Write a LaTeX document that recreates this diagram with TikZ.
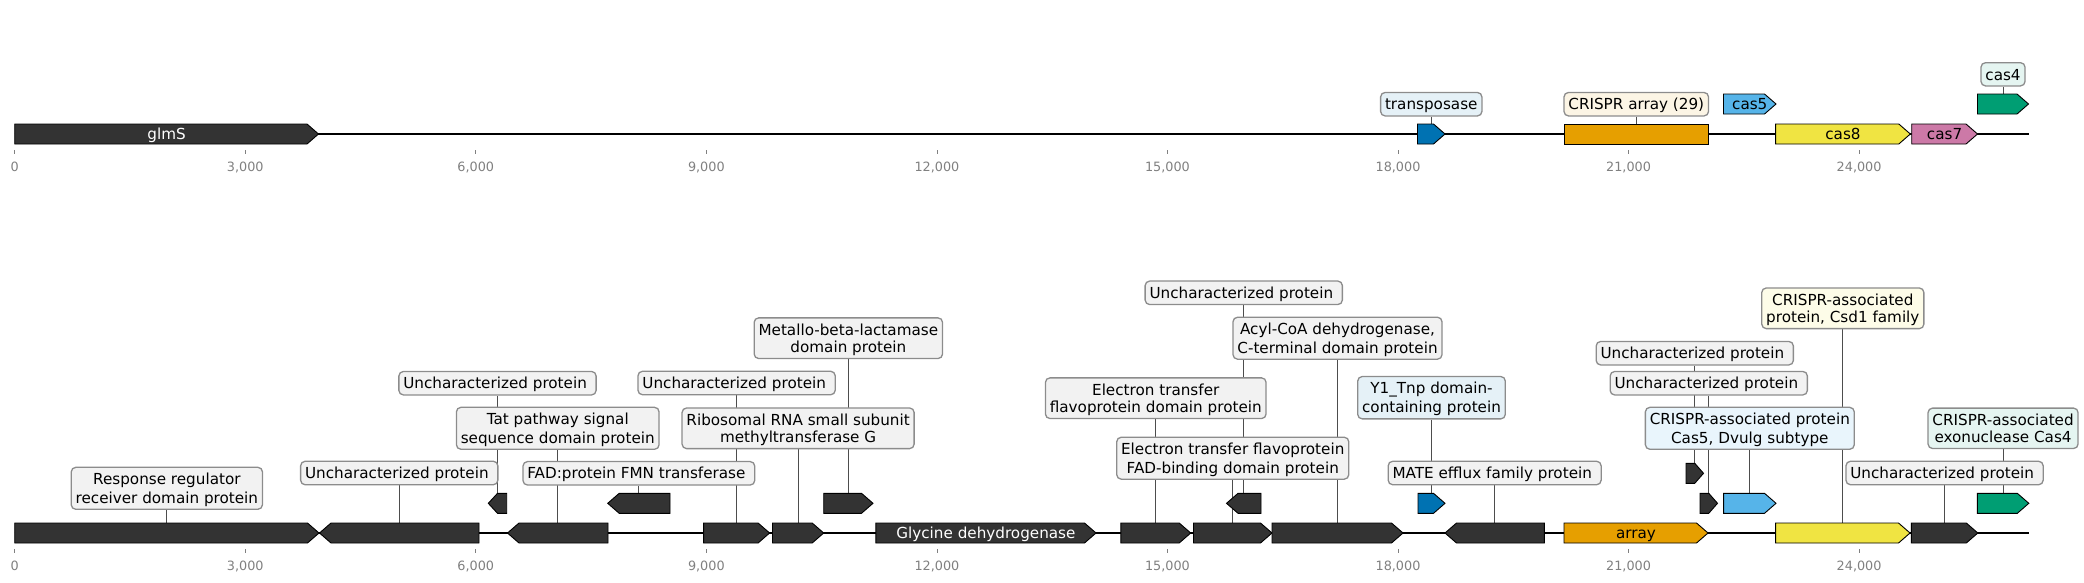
\documentclass[tikz,border=0pt]{standalone}
\usepackage{fontspec}
\setmainfont{DejaVu Sans}
\definecolor{gdark}{HTML}{333333}
\definecolor{cblue}{HTML}{0072B2}
\definecolor{csky}{HTML}{56B4E9}
\definecolor{corange}{HTML}{E69F00}
\definecolor{cyellow}{HTML}{F0E442}
\definecolor{cpink}{HTML}{CC79A7}
\definecolor{cgreen}{HTML}{009E73}
\definecolor{boxfill}{HTML}{F2F2F2}
\definecolor{boxline}{HTML}{8C8C8C}
\definecolor{connc}{HTML}{4D4D4D}
\definecolor{tickc}{HTML}{808080}
\definecolor{ticktext}{HTML}{808080}
\colorlet{fblue}{cblue!10!white}
\colorlet{fsky}{csky!13!white}
\colorlet{forange}{corange!10!white}
\colorlet{fyellow}{cyellow!12!white}
\colorlet{fgreen}{cgreen!10!white}
\pgfdeclarelayer{bg}
\pgfsetlayers{bg,main}
\newcommand{\lblsize}{\fontsize{15.2}{17.2}\selectfont}
\newcommand{\ticksize}{\fontsize{12.8}{15}\selectfont}
\newcommand{\ls}{\rule[-2.9pt]{0pt}{17.2pt}}
% forward gene: name, x1, tip x2, yc, colour
\newcommand{\genef}[5]{%
  \pgfmathsetmacro{\ghl}{min(11.5,0.5*(#3-#2))}%
  \draw[genestyle,fill=#5] (#2,#4-10) -- ({#3-\ghl},#4-10) -- (#3,#4) -- ({#3-\ghl},#4+10) -- (#2,#4+10) -- cycle;
  \coordinate (#1) at ({(#2+#3)/2},#4-10);
  \coordinate (#1t) at ({(#2+#3)/2},#4+5.3);
}
% reverse gene: name, tip x1, x2, yc, colour
\newcommand{\gener}[5]{%
  \pgfmathsetmacro{\ghl}{min(11.5,0.5*(#3-#2))}%
  \draw[genestyle,fill=#5] (#3,#4-10) -- ({#2+\ghl},#4-10) -- (#2,#4) -- ({#2+\ghl},#4+10) -- (#3,#4+10) -- cycle;
  \coordinate (#1) at ({(#2+#3)/2},#4-10);
  \coordinate (#1t) at ({(#2+#3)/2},#4+5.3);
}
% rectangle feature
\newcommand{\generect}[5]{%
  \draw[genestyle,fill=#5] (#2,#4-10) rectangle (#3,#4+10);
  \coordinate (#1) at ({(#2+#3)/2},#4-10);
  \coordinate (#1t) at ({(#2+#3)/2},#4+5.3);
}
\begin{document}
\begin{tikzpicture}[x=1pt,y=-1pt,
  genestyle/.style={draw=black,line width=0.9pt,line join=miter},
  lbl/.style={draw=boxline,line width=1.3pt,rounded corners=4.5pt,fill=boxfill,inner xsep=4.4pt,inner ysep=3pt,align=center,font=\lblsize,text=black},
  conn/.style={draw=connc,line width=0.9pt},
  axisline/.style={draw=black,line width=2pt},
  tickmark/.style={draw=tickc,line width=0.8pt},
  ticklbl/.style={font=\ticksize,text=ticktext,anchor=base,inner sep=0pt},
  gtext/.style={font=\lblsize,anchor=base,inner sep=0pt}]
\useasboundingbox (0,0) rectangle (2084,582);

\begin{pgfonlayer}{bg}
  \draw[axisline] (14.7,134) -- (2028.5,134);
  \draw[axisline] (14.7,533) -- (2028.8,533);
\end{pgfonlayer}

% ticks
\foreach \i/\lab in {0/0,1/{3,000},2/{6,000},3/{9,000},4/{12,000},5/{15,000},6/{18,000},7/{21,000},8/{24,000}}{
  \pgfmathsetmacro{\tx}{14.7+\i*230.55}
  \draw[tickmark] (\tx,150) -- (\tx,154.3);
  \node[ticklbl] at (\tx,171.7) {\lab};
  \draw[tickmark] (\tx,549) -- (\tx,553.3);
  \node[ticklbl] at (\tx,570.7) {\lab};
}

% ---------- top panel genes ----------
\genef{gT1}{14.7}{318.5}{134}{gdark}
\genef{gT2}{1417.5}{1445}{134}{cblue}
\generect{gT3}{1564}{1708.5}{134}{corange}
\genef{gT4}{1723.5}{1776}{104}{csky}
\genef{gT5}{1775.6}{1910.3}{134}{cyellow}
\genef{gT6}{1911.7}{1977.5}{134}{cpink}
\genef{gT7}{1977.5}{2028.5}{104}{cgreen}

\node[gtext,text=white] (tT1) at (gT1t) {glmS};
\node[gtext] (tT4) at (gT4t) {cas5};
\node[gtext] (tT5) at (gT5t) {cas8};
\node[gtext] (tT6) at (gT6t) {cas7};

\node[lbl,fill=fblue] (lT2) at (gT2 |- 0,104.2) {\ls transposase};
\node[lbl,fill=forange] (lT3) at (gT3 |- 0,104.2) {\ls CRISPR array (29)};
\node[lbl,fill=fgreen] (lT7) at (gT7 |- 0,74.3) {\ls cas4};

% ---------- bottom panel genes ----------
\genef{gB1}{14.7}{319}{533}{gdark}
\gener{gB2}{319.5}{479}{533}{gdark}
\gener{gB3}{488.3}{506.7}{503.3}{gdark}
\gener{gB4}{507.5}{608}{533}{gdark}
\gener{gB5}{607.7}{670}{503.3}{gdark}
\genef{gB6}{703.6}{769.6}{533}{gdark}
\genef{gB7}{772.5}{823.7}{533}{gdark}
\genef{gB8}{823.7}{873}{503.3}{gdark}
\genef{gB9}{875.8}{1096}{533}{gdark}
\genef{gB10}{1120.8}{1190.7}{533}{gdark}
\genef{gB11}{1193.5}{1272}{533}{gdark}
\gener{gB12}{1226.5}{1261}{503.3}{gdark}
\genef{gB13}{1272}{1403}{533}{gdark}
\genef{gB14}{1418}{1445}{503.3}{cblue}
\gener{gB15}{1445}{1544.3}{533}{gdark}
\genef{gB16}{1564}{1708}{533}{corange}
\genef{gB17}{1686}{1703.5}{473.3}{gdark}
\genef{gB18}{1700}{1717.5}{503.3}{gdark}
\genef{gB19}{1723.6}{1776}{503.3}{csky}
\genef{gB20}{1775.6}{1910}{533}{cyellow}
\genef{gB21}{1911.3}{1977.8}{533}{gdark}
\genef{gB22}{1977.3}{2028.8}{503.3}{cgreen}

\node[gtext,text=white] (tB9) at (gB9t) {Glycine dehydrogenase};
\node[gtext] (tB16) at (gB16t) {array};

\node[lbl] (lB1) at (gB1 |- 0,488.3) {\ls Response regulator\\\ls receiver domain protein};
\node[lbl] (lB2) at (gB2 |- 0,473) {\ls Uncharacterized protein\ };
\node[lbl] (lB3) at (gB3 |- 0,383.2) {\ls Uncharacterized protein\ };
\node[lbl] (lB4) at (gB4 |- 0,428.3) {\ls Tat pathway signal\\\ls sequence domain protein};
\node[lbl] (lB5) at (gB5 |- 0,473.3) {\ls FAD:protein FMN transferase\ };
\node[lbl] (lB6) at (gB6 |- 0,383) {\ls Uncharacterized protein\ };
\node[lbl] (lB7) at (gB7 |- 0,428.3) {\ls Ribosomal RNA small subunit\\\ls methyltransferase G};
\node[lbl] (lB8) at (gB8 |- 0,338.2) {\ls Metallo-beta-lactamase\\\ls domain protein};
\node[lbl] (lB10) at (gB10 |- 0,398.2) {\ls Electron transfer\\\ls flavoprotein domain protein};
\node[lbl] (lB11) at (gB11 |- 0,458.2) {\ls Electron transfer flavoprotein\\\ls FAD-binding domain protein};
\node[lbl] (lB12) at (gB12 |- 0,292.8) {\ls Uncharacterized protein\ };
\node[lbl] (lB13) at (gB13 |- 0,338.2) {\ls Acyl-CoA dehydrogenase,\\\ls C-terminal domain protein};
\node[lbl,fill=fblue] (lB14) at (gB14 |- 0,397.7) {\ls Y1\_Tnp domain-\\\ls containing protein};
\node[lbl] (lB15) at (gB15 |- 0,473) {\ls MATE efflux family protein\ };
\node[lbl] (lB17) at (gB17 |- 0,353.2) {\ls Uncharacterized protein\ };
\node[lbl] (lB18) at (gB18 |- 0,383.2) {\ls Uncharacterized protein\ };
\node[lbl,fill=fsky] (lB19) at (gB19 |- 0,428.3) {\ls CRISPR-associated protein\\\ls Cas5, Dvulg subtype};
\node[lbl,fill=fyellow] (lB20) at (gB20 |- 0,308.3) {\ls CRISPR-associated\\\ls protein, Csd1 family};
\node[lbl] (lB21) at (gB21 |- 0,473) {\ls Uncharacterized protein\ };
\node[lbl,fill=fgreen] (lB22) at (gB22 |- 0,428.3) {\ls CRISPR-associated\\\ls exonuclease Cas4};

\begin{pgfonlayer}{bg}
  \foreach \n in {T2,T3,T7,B1,B2,B3,B4,B5,B6,B7,B8,B10,B11,B12,B13,B14,B15,B17,B18,B19,B20,B21,B22}{
    \draw[conn] (l\n.south) -- (g\n);
  }
\end{pgfonlayer}
\end{tikzpicture}
\end{document}
